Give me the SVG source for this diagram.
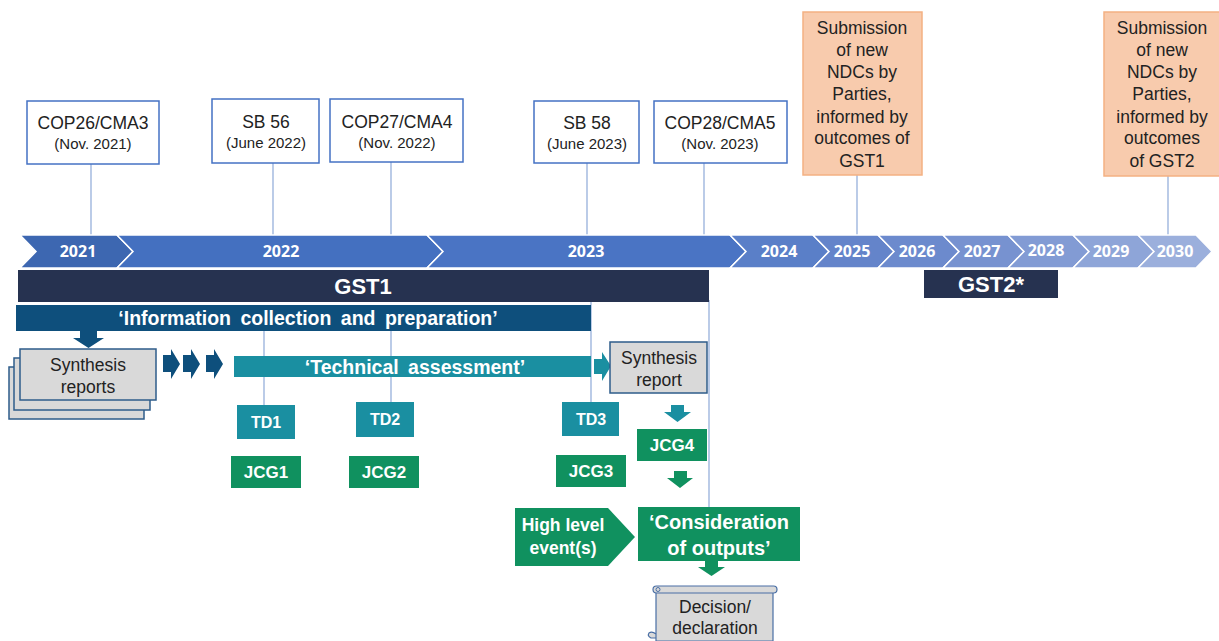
<svg xmlns="http://www.w3.org/2000/svg" width="1219" height="641" viewBox="0 0 1219 641">
<defs>
<style>
.ev{fill:#fff;stroke:#4472C4;stroke-width:1.5}
.ndc{fill:#F8CBAD;stroke:#F4B183;stroke-width:1.5}
.ln{stroke:#8EA9D8;stroke-width:1.2;fill:none}
.t{font-family:"Liberation Sans",Arial,sans-serif;fill:#222;text-anchor:middle}
.big{font-size:17.5px}
.sm{font-size:15px}
.yr{font-family:"Open Sans","Liberation Sans",sans-serif;font-weight:bold;font-size:16px;fill:#fff;text-anchor:middle}
.chev{stroke:#fff;stroke-width:1.5}
.w{font-family:"Liberation Sans",Arial,sans-serif;font-weight:bold;fill:#fff;text-anchor:middle}
.teal{fill:#1A8FA1}
.green{fill:#10915F}
.grey{fill:#D9D9D9;stroke:#2E5C8A;stroke-width:1.5}
</style>
</defs>
<rect width="1219" height="641" fill="#fff"/>

<g id="connectors">
<line class="ln" x1="91" y1="164" x2="91" y2="236"/>
<line class="ln" x1="273" y1="163" x2="273" y2="236"/>
<line class="ln" x1="391" y1="162" x2="391" y2="236"/>
<line class="ln" x1="587" y1="163" x2="587" y2="236"/>
<line class="ln" x1="704" y1="163" x2="704" y2="236"/>
<line class="ln" x1="857" y1="175" x2="857" y2="236"/>
<line class="ln" x1="1168" y1="176" x2="1168" y2="236"/>
<line class="ln" x1="709" y1="300" x2="709" y2="508"/>
<line class="ln" x1="591" y1="300" x2="591" y2="402"/>
<line class="ln" x1="264" y1="331" x2="264" y2="405"/>
<line class="ln" x1="391" y1="331" x2="391" y2="402"/>
</g>

<g id="timeline">
<path class="chev" fill="#3D67B1" d="M20 235 L117 235 L133 251.5 L117 268 L20 268 L36 251.5 Z"/>
<path class="chev" fill="#4470C0" d="M117 235 L427 235 L443 251.5 L427 268 L117 268 L133 251.5 Z"/>
<path class="chev" fill="#4A74C4" d="M427 235 L730 235 L746 251.5 L730 268 L427 268 L443 251.5 Z"/>
<path class="chev" fill="#5A7FC8" d="M730 235 L813 235 L829 251.5 L813 268 L730 268 L746 251.5 Z"/>
<path class="chev" fill="#6484CA" d="M813 235 L878 235 L894 251.5 L878 268 L813 268 L829 251.5 Z"/>
<path class="chev" fill="#6C8ACD" d="M878 235 L943 235 L959 251.5 L943 268 L878 268 L894 251.5 Z"/>
<path class="chev" fill="#7792D0" d="M943 235 L1008 235 L1024 251.5 L1008 268 L943 268 L959 251.5 Z"/>
<path class="chev" fill="#829BD4" d="M1008 235 L1073 235 L1089 251.5 L1073 268 L1008 268 L1024 251.5 Z"/>
<path class="chev" fill="#8EA5D8" d="M1073 235 L1138 235 L1154 251.5 L1138 268 L1073 268 L1089 251.5 Z"/>
<path class="chev" fill="#9BAFDC" d="M1138 235 L1196 235 L1212 251.5 L1196 268 L1138 268 L1154 251.5 Z"/>
<text class="yr" x="78" y="257">2021</text>
<text class="yr" x="281" y="257">2022</text>
<text class="yr" x="586" y="257">2023</text>
<text class="yr" x="779" y="257">2024</text>
<text class="yr" x="852" y="257">2025</text>
<text class="yr" x="917" y="257">2026</text>
<text class="yr" x="982" y="257">2027</text>
<text class="yr" x="1046" y="256">2028</text>
<text class="yr" x="1111" y="257">2029</text>
<text class="yr" x="1175" y="257">2030</text>
</g>

<g id="cop26">
<rect class="ev" x="27" y="101" width="132" height="63"/>
<text class="t big" x="93" y="129">COP26/CMA3</text>
<text class="t sm" x="93" y="149">(Nov. 2021)</text>
</g>
<g id="sb56">
<rect class="ev" x="212" y="99" width="107" height="64"/>
<text class="t big" x="266" y="128">SB 56</text>
<text class="t sm" x="266" y="148">(June 2022)</text>
</g>
<g id="cop27">
<rect class="ev" x="330" y="99" width="133" height="63"/>
<text class="t big" x="397" y="128">COP27/CMA4</text>
<text class="t sm" x="397" y="148">(Nov. 2022)</text>
</g>
<g id="sb58">
<rect class="ev" x="534" y="101" width="105" height="62"/>
<text class="t big" x="587" y="129">SB 58</text>
<text class="t sm" x="587" y="149">(June 2023)</text>
</g>
<g id="cop28">
<rect class="ev" x="654" y="101" width="133" height="62"/>
<text class="t big" x="720" y="129">COP28/CMA5</text>
<text class="t sm" x="720" y="149">(Nov. 2023)</text>
</g>

<g id="ndc1">
<rect class="ndc" x="803" y="12" width="119" height="163"/>
<text class="t big" x="862" y="34">Submission</text>
<text class="t big" x="862" y="56">of new</text>
<text class="t big" x="862" y="78">NDCs by</text>
<text class="t big" x="862" y="100">Parties,</text>
<text class="t big" x="862" y="123">informed by</text>
<text class="t big" x="862" y="144">outcomes of</text>
<text class="t big" x="862" y="167">GST1</text>
</g>
<g id="ndc2">
<rect class="ndc" x="1104" y="12" width="116" height="164"/>
<text class="t big" x="1162" y="34">Submission</text>
<text class="t big" x="1162" y="56">of new</text>
<text class="t big" x="1162" y="78">NDCs by</text>
<text class="t big" x="1162" y="100">Parties,</text>
<text class="t big" x="1162" y="123">informed by</text>
<text class="t big" x="1162" y="144">outcomes</text>
<text class="t big" x="1162" y="167">of GST2</text>
</g>

<g id="gst1">
<rect x="18" y="270" width="691" height="32" fill="#263250"/>
<text class="w" x="363" y="294" font-size="22">GST1</text>
</g>
<g id="gst2">
<rect x="924" y="270" width="134" height="28" fill="#263250"/>
<text class="w" x="991" y="292" font-size="22">GST2*</text>
</g>

<g id="info">
<rect x="16" y="305" width="575" height="26" fill="#0E4F7C"/>
<text class="w" x="308" y="325" font-size="19.5" word-spacing="4">‘Information collection and preparation’</text>
<path fill="#0E4F7C" d="M80 331 L97 331 L97 338 L104 338 L88.5 348 L73 338 L80 338 Z"/>
</g>

<g id="synthesis-reports">
<rect class="grey" x="9" y="367" width="135" height="52" stroke-width="1"/>
<rect class="grey" x="14" y="358" width="136" height="52" stroke-width="1"/>
<rect class="grey" x="20" y="349" width="136" height="51"/>
<text class="t big" x="88" y="371">Synthesis</text>
<text class="t big" x="88" y="393">reports</text>
</g>

<g id="flow-arrows">
<path fill="#0E4F7C" d="M163 355 L171 355 L171 349 L180 364 L171 379 L171 372 L163 372 Z"/>
<path fill="#0E4F7C" d="M183 355 L191 355 L191 349 L200 364 L191 379 L191 372 L183 372 Z"/>
<path fill="#0E4F7C" d="M206 355 L214 355 L214 349 L223 364 L214 379 L214 372 L206 372 Z"/>
</g>

<g id="technical">
<rect class="teal" x="234" y="356" width="357" height="21"/>
<text class="w" x="415" y="374" font-size="19.5" word-spacing="4">‘Technical assessment’</text>
<path class="teal" d="M594 359 L602 359 L602 352 L611 366 L602 381 L602 374 L594 374 Z"/>
</g>

<g id="synthesis-report">
<rect class="grey" x="610" y="342" width="97" height="51"/>
<text class="t big" x="659" y="364">Synthesis</text>
<text class="t big" x="659" y="386">report</text>
</g>

<g id="td1"><rect class="teal" x="237" y="405" width="58" height="34"/><text class="w" x="266" y="428" font-size="16">TD1</text></g>
<g id="td2"><rect class="teal" x="356" y="402" width="58" height="35"/><text class="w" x="385" y="425" font-size="16">TD2</text></g>
<g id="td3"><rect class="teal" x="562" y="402" width="57" height="34"/><text class="w" x="591" y="425" font-size="16">TD3</text></g>

<g id="jcg1"><rect class="green" x="231" y="456" width="70" height="32"/><text class="w" x="266" y="478" font-size="17">JCG1</text></g>
<g id="jcg2"><rect class="green" x="349" y="456" width="70" height="32"/><text class="w" x="384" y="478" font-size="17">JCG2</text></g>
<g id="jcg3"><rect class="green" x="556" y="455" width="70" height="32"/><text class="w" x="591" y="477" font-size="17">JCG3</text></g>
<g id="jcg4"><rect class="green" x="637" y="429" width="70" height="32"/><text class="w" x="672" y="451" font-size="17">JCG4</text></g>

<g id="down-arrows">
<path class="teal" d="M671 405 L684 405 L684 412 L691 412 L677.5 422 L664 412 L671 412 Z"/>
<path class="green" d="M674 471 L687 471 L687 478 L693 478 L680 488 L667 478 L674 478 Z"/>
<path class="green" d="M705 561 L718 561 L718 567 L725 567 L711.5 576 L698 567 L705 567 Z"/>
</g>

<g id="high-level">
<path class="green" d="M515 508 L608 508 L635 537 L608 566 L515 566 Z"/>
<text class="w" x="563" y="531" font-size="17.5">High level</text>
<text class="w" x="563" y="554" font-size="17.5">event(s)</text>
</g>

<g id="consideration">
<rect class="green" x="638" y="507" width="162" height="54"/>
<text class="w" x="719" y="529" font-size="20">‘Consideration</text>
<text class="w" x="719" y="555" font-size="20">of outputs’</text>
</g>

<g id="decision">
<path fill="#D9D9D9" stroke="#4A6FA5" stroke-width="1.2" d="M656 588 L656 638 L651 638 Q647 636 649 633 Q652 631 656 634 M656 588 L773 588 L773 641 L656 641 Z"/>
<rect x="653" y="586" width="124" height="7" rx="3.5" fill="#D9D9D9" stroke="#4A6FA5" stroke-width="1.2"/>
<circle cx="658" cy="589.5" r="2" fill="none" stroke="#4A6FA5" stroke-width="1"/>
<text class="t big" x="715" y="613">Decision/</text>
<text class="t big" x="715" y="634">declaration</text>
</g>
</svg>
